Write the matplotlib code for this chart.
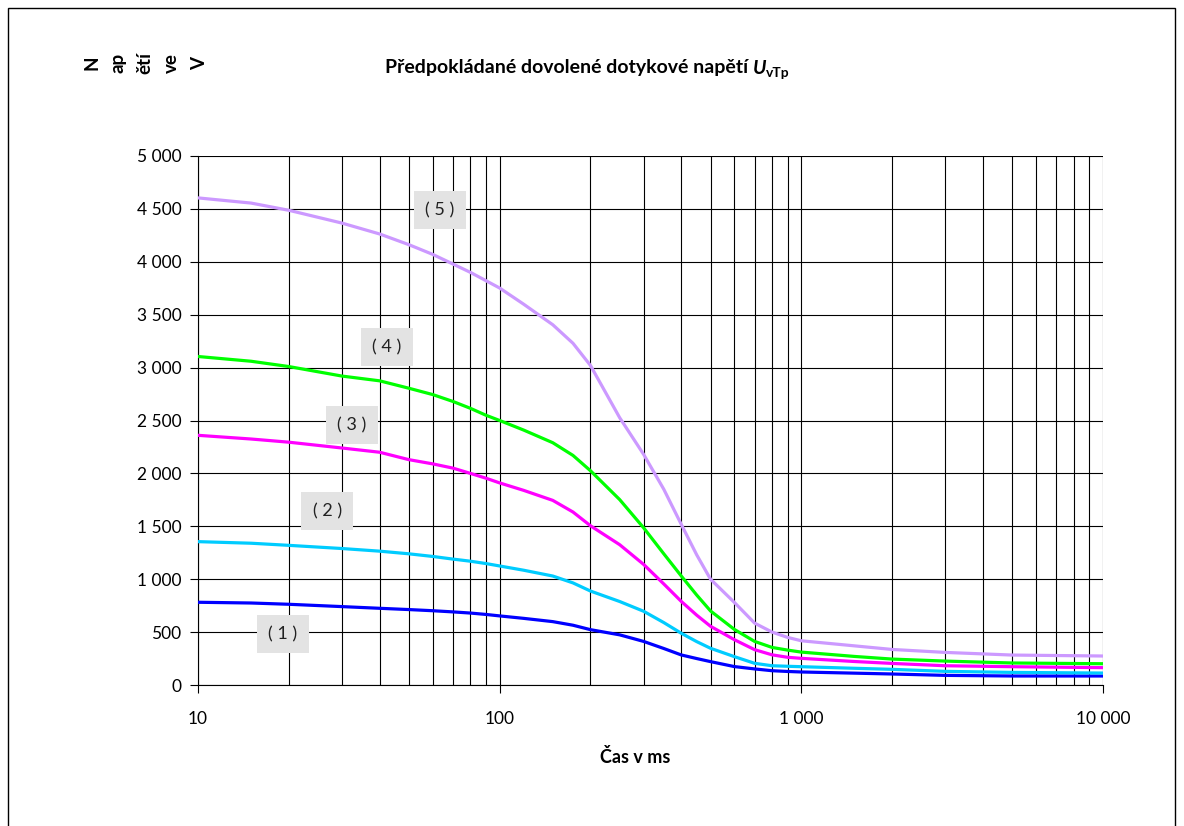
import matplotlib
matplotlib.use("Agg")
import matplotlib.pyplot as plt
from matplotlib.ticker import FixedLocator, FuncFormatter, LogLocator, NullFormatter
from matplotlib.patches import Rectangle

# Čas v ms
cas = [10, 15, 20, 30, 40, 50, 60, 70, 80, 90, 100, 120, 150, 175, 200, 250, 300, 350, 400,
       450, 500, 600, 700, 800, 900, 1000, 1500, 2000, 3000, 5000, 10000]

# Napětí ve V pro křivky (1) až (5)
krivka_1 = [782, 775, 763, 741, 725, 713, 702, 691, 680, 667, 653, 630, 599, 565, 523, 474, 412, 345, 284,
            250, 221, 174, 152, 135, 128, 123, 112, 104, 91, 85, 85]
krivka_2 = [1355, 1340, 1320, 1290, 1265, 1240, 1215, 1190, 1170, 1148, 1125, 1085, 1030, 965, 888, 789, 697, 590, 489,
            410, 347, 268, 205, 182, 177, 173, 158, 148, 129, 119, 113]
krivka_3 = [2360, 2325, 2295, 2240, 2200, 2130, 2090, 2050, 2000, 1955, 1910, 1840, 1745, 1635, 1505, 1326, 1140, 955, 790,
            660, 555, 428, 334, 285, 262, 252, 222, 204, 182, 173, 164]
krivka_4 = [3105, 3060, 3010, 2920, 2875, 2805, 2745, 2680, 2615, 2550, 2500, 2410, 2290, 2170, 2025, 1752, 1486, 1240, 1030,
            850, 700, 525, 412, 355, 330, 311, 270, 245, 226, 208, 201]
krivka_5 = [4604, 4555, 4487, 4366, 4263, 4162, 4070, 3979, 3900, 3822, 3752, 3600, 3405, 3230, 3020, 2526, 2180, 1850, 1518,
            1230, 1000, 780, 585, 500, 450, 418, 370, 336, 308, 283, 274]

popisky = ["( 1 )", "( 2 )", "( 3 )", "( 4 )", "( 5 )"]
barvy = ["#0000FF", "#00CCFF", "#FF00FF", "#00FF00", "#CC99FF"]
# pozice popisků (čas, napětí)
popisky_x = [19.1, 26.8, 32.4, 42.3, 63.4]
popisky_y = [482, 1645, 2457, 3195, 4490]

plt.rcParams['font.family'] = ['Lato', 'DejaVu Sans']

fig = plt.figure(figsize=(11.84, 8.26), dpi=100)
fig.patch.set_facecolor("white")

# rámeček kolem grafu (spodní hrana je oříznutá)
fig.patches.append(Rectangle((8 / 1184, -0.05), (1175 - 8) / 1184, 1 - 8 / 826 + 0.05,
                             transform=fig.transFigure, fill=False, edgecolor="black", linewidth=1.0))

ax = fig.add_axes([198 / 1184, 1 - 685 / 826, (1103 - 198) / 1184, (685 - 156) / 826])

for y, c in zip([krivka_1, krivka_2, krivka_3, krivka_4, krivka_5], barvy):
    ax.plot(cas, y, color=c, linewidth=2.3, zorder=3, solid_joinstyle="round")

ax.set_xscale("log")
ax.set_xlim(10, 10000)
ax.set_ylim(0, 5000)

ax.xaxis.set_major_locator(FixedLocator([10, 100, 1000, 10000]))
ax.xaxis.set_minor_locator(LogLocator(base=10, subs=range(2, 10)))
ax.xaxis.set_minor_formatter(NullFormatter())
ax.yaxis.set_major_locator(FixedLocator(range(0, 5001, 500)))

fmt = FuncFormatter(lambda v, p: f"{int(round(v)):,}".replace(",", " "))
ax.xaxis.set_major_formatter(fmt)
ax.yaxis.set_major_formatter(fmt)

ax.grid(True, which="major", color="black", linewidth=0.8)
ax.grid(True, which="minor", axis="x", color="black", linewidth=0.8)

ax.tick_params(axis="both", which="major", direction="out", length=6, width=0.8, labelsize=12.5, colors="black")
ax.tick_params(axis="x", which="major", pad=13)
ax.tick_params(axis="y", which="major", pad=6)
ax.tick_params(axis="x", which="minor", length=0)

for s in ["top", "right"]:
    ax.spines[s].set_visible(False)
ax.spines["left"].set_color("black")
ax.spines["bottom"].set_color("black")
ax.spines["left"].set_linewidth(0.8)
ax.spines["bottom"].set_linewidth(0.8)

for txt, px, py in zip(popisky, popisky_x, popisky_y):
    ax.text(px, py, txt, fontsize=13, ha="center", va="center", color="#222222", zorder=5,
            bbox=dict(boxstyle="square,pad=0.62", facecolor="#E3E3E3", edgecolor="none"))

fig.text(635 / 1184, 1 - 757 / 826, "Čas v ms", fontsize=13, fontweight="bold", ha="center", va="center")

# titulek s indexem
t = fig.text(385 / 1184, 1 - 68 / 826, "Předpokládané dovolené dotykové napětí ", fontsize=14,
             fontweight="bold", ha="left", va="center")
fig.canvas.draw()
bb = t.get_window_extent()
u = fig.text(bb.x1 / 1184, 1 - 68 / 826, "U", fontsize=14, fontweight="bold", style="italic",
             ha="left", va="center")
fig.canvas.draw()
bb2 = u.get_window_extent()
fig.text(bb2.x1 / 1184, 1 - 73 / 826, "vTp", fontsize=10, fontweight="bold", ha="left", va="center")

# popis osy y (zalomený text jako v originále)
for cast, xp in zip(["N", "ap", "ětí", "ve", "V"], [92, 118, 145, 171, 200]):
    fig.text(xp / 1184, 1 - 63 / 826, cast, fontsize=13.5, fontweight="bold", rotation=90,
             ha="center", va="center")

fig.savefig("out.png", dpi=100)
